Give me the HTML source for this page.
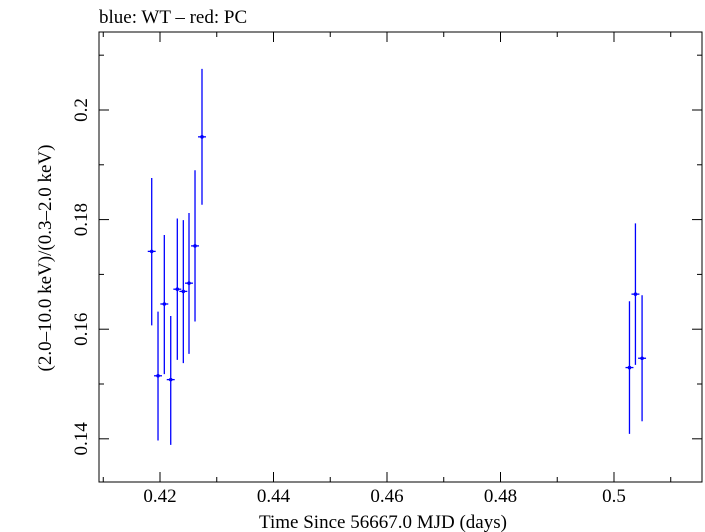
<!DOCTYPE html>
<html><head><meta charset="utf-8"><style>
html,body{margin:0;padding:0;background:#fff;}
svg{display:block;font-family:"Liberation Serif",serif;}
</style></head><body>
<svg id="chart" width="705" height="532" viewBox="0 0 705 532" xmlns="http://www.w3.org/2000/svg">
<text x="99" y="23" font-size="19">blue: WT – red: PC</text>
<rect x="99" y="32" width="603" height="450" fill="none" stroke="#000" stroke-width="1"/>
<g id="ticks"></g>
<g id="marks"></g>
<text x="383" y="528" font-size="19" text-anchor="middle">Time Since 56667.0 MJD (days)</text>
<text transform="translate(51,258) rotate(-90)" font-size="19" text-anchor="middle">(2.0–10.0 keV)/(0.3–2.0 keV)</text>
</svg>
<script>
const times = [0.41854,0.41965,0.42076,0.42189,0.42305,0.42411,0.42511,0.42617,0.42740,0.50273,0.50378,0.50495];
const ratios = [0.1742,0.1515,0.1646,0.1508,0.1673,0.1669,0.1684,0.1752,0.1951,0.1530,0.1664,0.1547];
const errHi = [0.1876,0.1632,0.1772,0.1624,0.1802,0.1799,0.1812,0.1890,0.2075,0.1651,0.1793,0.1662];
const errLo = [0.1607,0.1397,0.1518,0.1389,0.1544,0.1538,0.1555,0.1614,0.1827,0.1409,0.1535,0.1432];
const timeErr = [0.0007,0.0007,0.0007,0.0007,0.0007,0.0007,0.0007,0.0007,0.0007,0.0007,0.0007,0.0007];
const xTickLabels = ["0.42","0.44","0.46","0.48","0.5"];
const yTickLabels = ["0.14","0.16","0.18","0.2"];

const L=99,R=702,T=32,B=482;
const xMin=0.40925,xMax=0.51551,yMin=0.13212,yMax=0.21423;
const X=v=>L+(v-xMin)/(xMax-xMin)*(R-L);
const Y=v=>B-(v-yMin)/(yMax-yMin)*(B-T);
const NS="http://www.w3.org/2000/svg";
function mk(tag,attrs,parent){const e=document.createElementNS(NS,tag);for(const k in attrs)e.setAttribute(k,attrs[k]);parent.appendChild(e);return e;}
const tg=document.getElementById('ticks');
for(let i=41;i<=51;i++){
  const v=i/100,x=X(v),maj=(i%2===0),len=maj?10:5;
  const l1=mk('line',{x1:x,y1:B,x2:x,y2:B-len,stroke:'#000'},tg);
  
  
  const l2=mk('line',{x1:x,y1:T,x2:x,y2:T+len,stroke:'#000'},tg);
  
  
}
xTickLabels.forEach(s=>{
  const t=mk('text',{x:X(parseFloat(s)),y:B+20,'font-size':19,'text-anchor':'middle'},tg);
  t.textContent=s;
  
  
});
for(let i=14;i<=21;i++){
  const v=i/100,y=Y(v),maj=(i%2===0),len=maj?10:5;
  const l1=mk('line',{x1:L,y1:y,x2:L+len,y2:y,stroke:'#000'},tg);
  
  
  const l2=mk('line',{x1:R,y1:y,x2:R-len,y2:y,stroke:'#000'},tg);
  
  
}
yTickLabels.forEach(s=>{
  const y=Y(parseFloat(s));
  const t=mk('text',{x:0,y:0,'font-size':19,'text-anchor':'middle',transform:`translate(87,${y}) rotate(-90)`},tg);
  t.textContent=s;
  
  
});
const mg=document.getElementById('marks');
times.forEach((t,i)=>{
  const x=X(t),y=Y(ratios[i]);
  const v=mk('line',{x1:x,y1:Y(errHi[i]),x2:x,y2:Y(errLo[i]),stroke:'#0000ff','stroke-width':1.3},mg);
  
  
  const h=mk('line',{x1:X(t-timeErr[i]),y1:y,x2:X(t+timeErr[i]),y2:y,stroke:'#0000ff','stroke-width':1.3},mg);
  
  
  const p=mk('circle',{cx:x,cy:y,r:1.8,fill:'#0000ff'},mg);
  
  
});
</script>
</body></html>
